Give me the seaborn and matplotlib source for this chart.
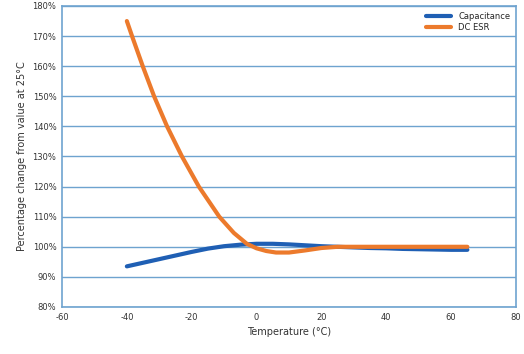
import matplotlib
matplotlib.use("Agg")
import matplotlib.pyplot as plt
import seaborn as sns
import pandas as pd

cap_temperature = [-40, -35, -30, -25, -20, -15, -10, -5, 0, 5, 10, 15, 20,
                   25, 30, 35, 40, 45, 50, 55, 60, 65]
capacitance = [93.5, 94.7, 95.9, 97.1, 98.3, 99.4, 100.2, 100.7, 101.0, 101.0,
               100.8, 100.5, 100.2, 100.0, 99.8, 99.6, 99.5, 99.3, 99.2, 99.1,
               99.0, 99.0]
esr_temperature = [-40, -38.4, -35.1, -31.6, -27.6, -23.0, -17.8, -11.5, -7,
                   -3, 0, 3, 6, 10, 15, 20, 25, 30, 40, 50, 60, 65]
dc_esr = [175.0, 170.0, 160.0, 150.0, 140.0, 130.0, 120.0, 110.0, 104.6,
          101.0, 99.5, 98.6, 98.1, 98.1, 98.8, 99.6, 100.0, 100.0, 100.0,
          100.0, 100.0, 100.0]
x_ticks = [-60, -40, -20, 0, 20, 40, 60, 80]
y_ticks = [80, 90, 100, 110, 120, 130, 140, 150, 160, 170, 180]

df = pd.DataFrame({
    "Temperature": cap_temperature + esr_temperature,
    "Value": capacitance + dc_esr,
    "Series": ["Capacitance"] * len(cap_temperature) + ["DC ESR"] * len(esr_temperature),
})

sns.set_style("white")
plt.rcParams['font.family'] = ['DejaVu Sans']

fig = plt.figure(figsize=(5.24, 3.54), dpi=100)
ax = fig.add_axes([62 / 524, 1 - 307 / 354, (516 - 62) / 524, (307 - 6) / 354])

sns.lineplot(data=df, x="Temperature", y="Value", hue="Series",
             palette={"Capacitance": "#1f5fb4", "DC ESR": "#ec7a2c"},
             linewidth=3.0, ax=ax, legend=True)
for ln in ax.get_lines():
    ln.set_solid_joinstyle("round")
    ln.set_solid_capstyle("round")

ax.set_xlim(-60, 80)
ax.set_ylim(80, 180)
ax.set_xticks(x_ticks)
ax.set_xticklabels([str(t) for t in x_ticks], fontsize=6)
ax.set_yticks(y_ticks)
ax.set_yticklabels([f"{t}%" for t in y_ticks], fontsize=6)
ax.yaxis.grid(True, color="#6ea3cf", linewidth=1.0)
ax.xaxis.grid(False)
for s in ax.spines.values():
    s.set_color("#6ea3cf")
    s.set_linewidth(1.2)
ax.tick_params(axis="both", length=0, pad=4, colors="#333333")
ax.set_xlabel("Temperature (°C)", fontsize=7, color="#333333")
ax.set_ylabel("Percentage change from value at 25°C", fontsize=7, color="#333333")

leg = ax.legend(loc="upper right", fontsize=6, frameon=False, handlelength=3,
                borderaxespad=0.3, labelspacing=0.2)

fig.savefig("out.png", dpi=100)
